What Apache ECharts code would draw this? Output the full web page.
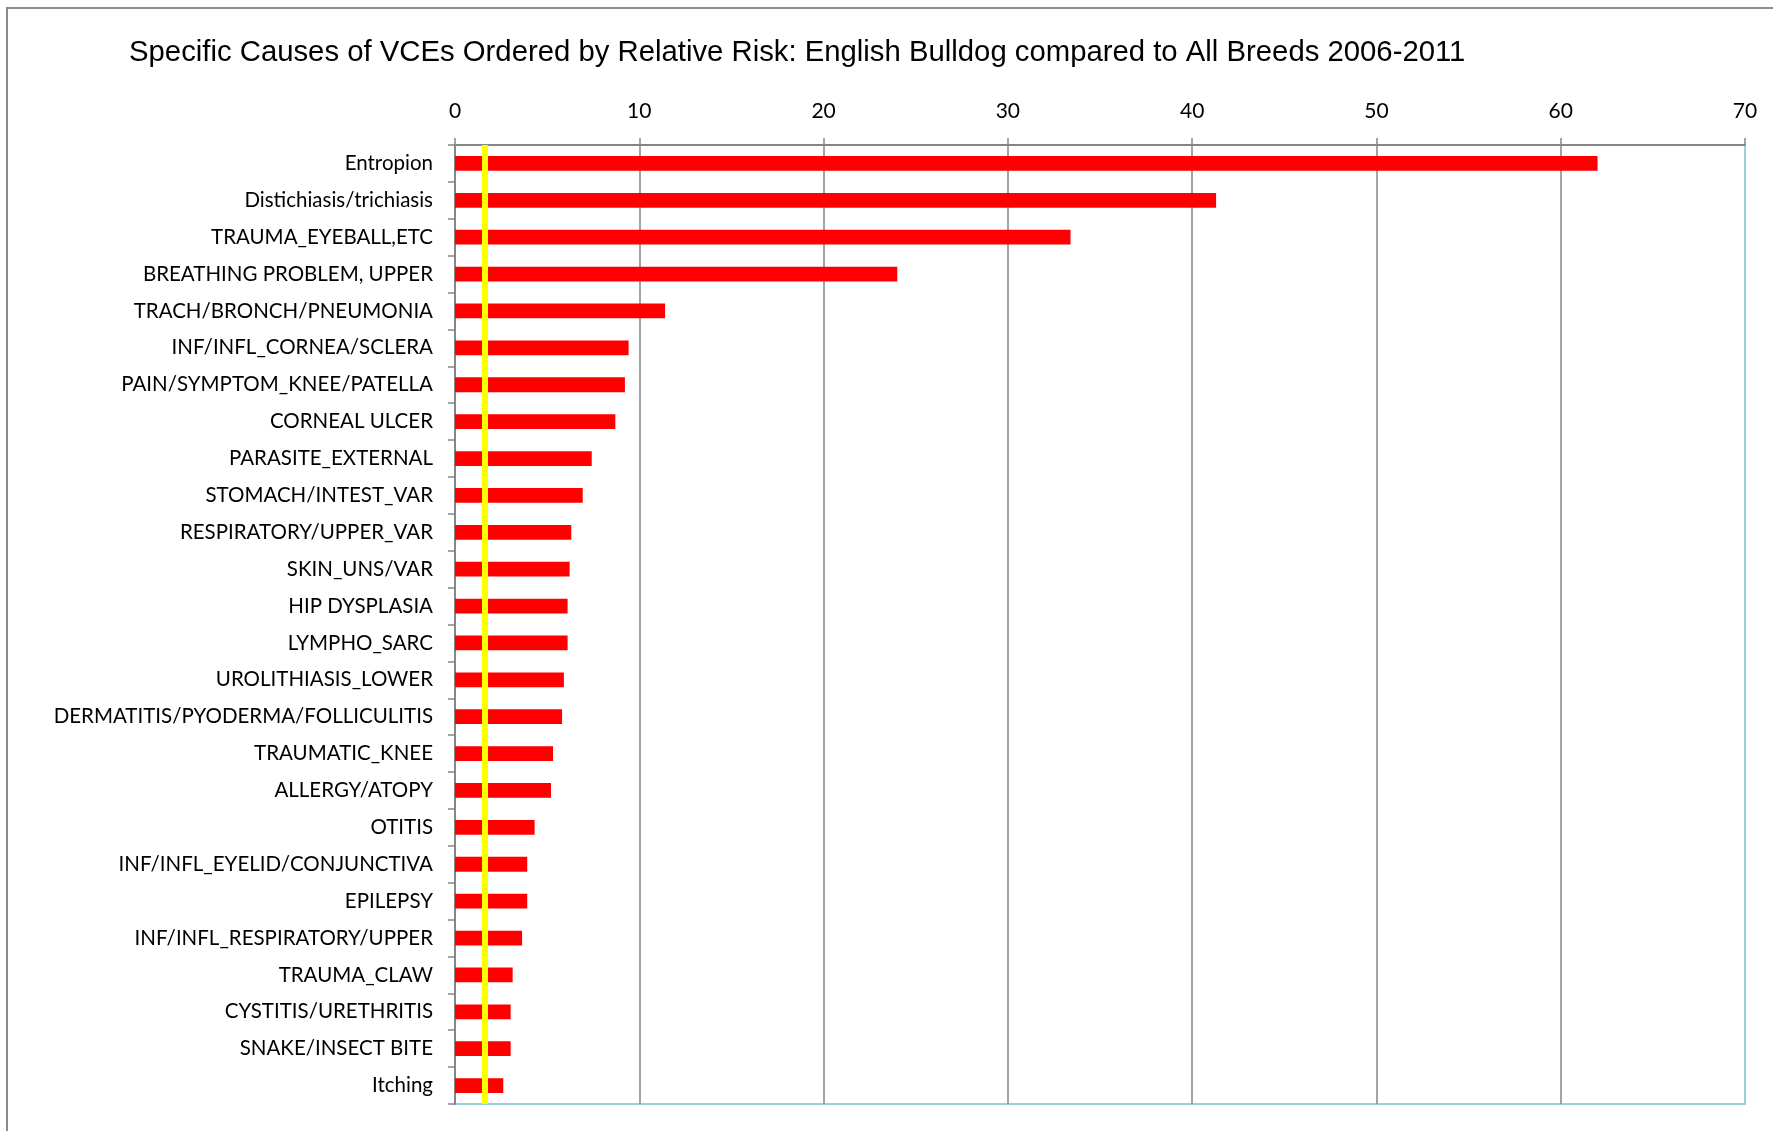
<!DOCTYPE html>
<html>
<head>
<meta charset="utf-8">
<title>English Bulldog VCE relative risk</title>
<script src="https://cdn.jsdelivr.net/npm/echarts@6/dist/echarts.min.js"></script>
<style>
    html, body { margin: 0; padding: 0; background: #fff; }
    #chart { width: 1773px; height: 1131px; }
</style>
</head>
<body>
<div id="chart"></div>
<script>
    // causes, top to bottom
    var causes = [
        'Entropion', 'Distichiasis/trichiasis', 'TRAUMA_EYEBALL,ETC', 'BREATHING PROBLEM, UPPER',
        'TRACH/BRONCH/PNEUMONIA', 'INF/INFL_CORNEA/SCLERA', 'PAIN/SYMPTOM_KNEE/PATELLA', 'CORNEAL ULCER',
        'PARASITE_EXTERNAL', 'STOMACH/INTEST_VAR', 'RESPIRATORY/UPPER_VAR', 'SKIN_UNS/VAR',
        'HIP DYSPLASIA', 'LYMPHO_SARC', 'UROLITHIASIS_LOWER', 'DERMATITIS/PYODERMA/FOLLICULITIS',
        'TRAUMATIC_KNEE', 'ALLERGY/ATOPY', 'OTITIS', 'INF/INFL_EYELID/CONJUNCTIVA',
        'EPILEPSY', 'INF/INFL_RESPIRATORY/UPPER', 'TRAUMA_CLAW', 'CYSTITIS/URETHRITIS',
        'SNAKE/INSECT BITE', 'Itching'
    ];
    // relative risk vs all breeds
    var relRisk = [
        62.0, 41.3, 33.4, 24.0,
        11.4, 9.42, 9.22, 8.70,
        7.42, 6.93, 6.31, 6.22,
        6.11, 6.11, 5.91, 5.81,
        5.32, 5.21, 4.32, 3.92,
        3.92, 3.64, 3.13, 3.02,
        3.02, 2.62
    ];
    // yellow reference line
    var refLine = 1.6;
    var xTicks = { min: 0, max: 70, interval: 10 };

    var gray = '#868686';
    var chart = echarts.init(document.getElementById('chart'));
    var option = {
        backgroundColor: '#fff',
        animation: false,
        title: {
            text: 'Specific Causes of VCEs Ordered by Relative Risk: English Bulldog compared to All Breeds 2006-2011',
            left: 124,
            top: 33,
            textStyle: {
                fontFamily: 'Liberation Sans',
                fontSize: 29.3,
                fontWeight: 'normal',
                color: '#000'
            }
        },
        graphic: [{
            type: 'rect',
            shape: { x: 7, y: 8, width: 3000, height: 3000 },
            style: { fill: null, stroke: '#8c8c8c', lineWidth: 2 },
            silent: true
        }],
        grid: {
            left: 455,
            right: 28,
            top: 145,
            bottom: 27,
            show: true,
            borderColor: '#9ccfe0',
            borderWidth: 2,
            backgroundColor: 'transparent'
        },
        xAxis: {
            type: 'value',
            position: 'top',
            min: xTicks.min,
            max: xTicks.max,
            interval: xTicks.interval,
            axisLine: { show: true, lineStyle: { color: gray, width: 2 } },
            axisTick: { show: true, length: 7, lineStyle: { color: gray, width: 1.5 } },
            axisLabel: {
                margin: 23,
                fontFamily: 'Lato',
                fontSize: 21,
                color: '#000'
            },
            splitLine: {
                show: true,
                showMinLine: false,
                showMaxLine: false,
                lineStyle: { color: gray, width: 1.5 }
            }
        },
        yAxis: {
            type: 'category',
            inverse: true,
            data: causes,
            axisLine: { show: true, lineStyle: { color: gray, width: 2 } },
            axisTick: { show: true, length: 7, lineStyle: { color: gray, width: 1.5 } },
            axisLabel: {
                margin: 22,
                fontFamily: 'Lato',
                fontSize: 20.5,
                color: '#000',
                padding: [3, 0, 0, 0]
            }
        },
        series: [{
            type: 'bar',
            data: relRisk,
            barWidth: '40%',
            itemStyle: { color: '#ff0000' },
            markLine: {
                silent: true,
                symbol: 'none',
                label: { show: false },
                lineStyle: { color: '#ffff00', width: 6, type: 'solid' },
                data: [{ xAxis: refLine }]
            }
        }]
    };
    chart.setOption(option);
    window.addEventListener('resize', function () {
        chart.resize();
    });
</script>
</body>
</html>
